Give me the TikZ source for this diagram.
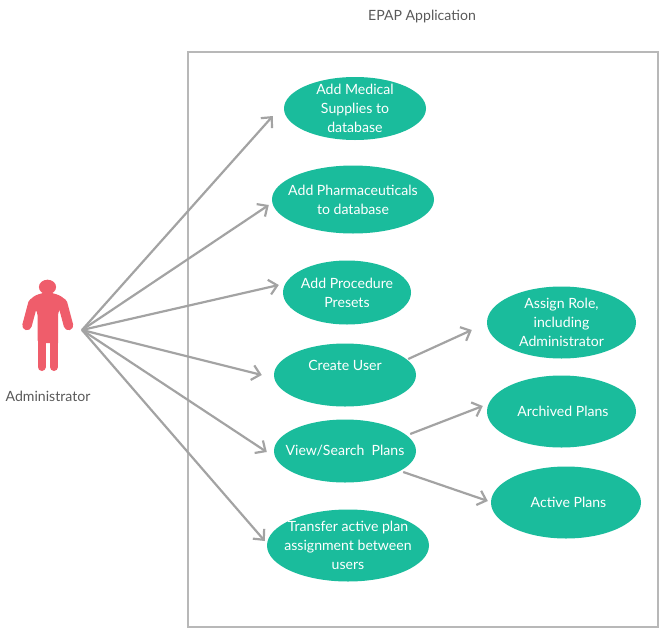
\documentclass[tikz,border=0pt]{standalone}
\usepackage{fontspec}
\setmainfont{Lato}
\usetikzlibrary{shapes.geometric,arrows.meta}
\definecolor{teal}{HTML}{1ABC9C}
\definecolor{conn}{HTML}{A3A3A3}
\definecolor{actor}{HTML}{EF5D6B}
\tikzset{
  usecase/.style={ellipse,fill=teal,text=white,align=center,inner xsep=-25pt,inner ysep=-25pt,
    font=\fontsize{14.1}{19}\selectfont},
  conn/.style={draw=conn,line width=2.2pt,-{Straight Barb[length=8pt,width=15pt,line width=2.2pt]}},
  plain/.style={text=black!65,inner sep=0pt,font=\fontsize{14.1}{19}\selectfont}
}
\begin{document}
\begin{tikzpicture}[x=1pt,y=-1pt]
\useasboundingbox (0,0) rectangle (667,635);
\node[draw=black!28,line width=1.5pt,minimum width=470pt,minimum height=575pt,inner sep=0pt] (sys) at (423,339.5) {};
\node[plain] (title) at (422,17) {EPAP Application};

\node[usecase,minimum width=142pt,minimum height=63pt] (e1) at (355,108.5) {Add Medical\\Supplies to\\database};
\node[usecase,minimum width=162pt,minimum height=68pt] (e2) at (353,199.5) {Add Pharmaceuticals\\to database};
\node[usecase,minimum width=128pt,minimum height=64pt] (e3) at (347,292.5) {Add Procedure\\Presets};
\node[usecase,minimum width=142pt,minimum height=63pt] (e4) at (345,375) {Create User\\\mbox{}};
\node[usecase,minimum width=142pt,minimum height=63pt] (e5) at (345,451) {View/Search\ \ Plans};
\node[usecase,minimum width=162pt,minimum height=72pt] (e6) at (348,545.5) {Transfer active plan\\assignment between\\users};
\node[usecase,minimum width=149pt,minimum height=72pt] (e7) at (561.5,322.5) {Assign Role,\\including\\Administrator};
\node[usecase,minimum width=149pt,minimum height=72pt] (e8) at (561.5,411.5) {\hspace*{3pt}Archived Plans};
\node[usecase,minimum width=150pt,minimum height=72pt] (e9) at (566,502.5) {\hspace*{5pt}Active Plans};

% actor figure
\fill[actor] (47.5,287) ellipse [x radius=8.6pt,y radius=7.3pt];
\fill[actor,rounded corners=3pt] (47.5,292) -- (56,294) -- (62,296.5) -- (67,302) -- (58,312) -- (58,340) -- (58,343) -- (37.5,343) -- (37.5,312) -- (29,302) -- (33,296.5) -- (39,294) -- cycle;
\draw[actor,line width=9.5pt,line cap=round] (33,303) -- (27,325.5);
\draw[actor,line width=9.5pt,line cap=round] (62.5,303) -- (68.5,325.5);
\draw[actor,line width=8pt,line cap=round] (41.7,335) -- (41.7,367);
\draw[actor,line width=8pt,line cap=round] (54,335) -- (54,367);
\coordinate (hub) at (82,330);
\node[plain] (admin) at (48,396) {Administrator};

\draw[conn] (hub) -- ([shift={(-11,7.5)}]e1.west);
\draw[conn] (hub) -- ([shift={(-3,5.5)}]e2.west);
\draw[conn] (hub) -- ([shift={(-4,-7.5)}]e3.west);
\draw[conn] (hub) -- ([shift={(-12,0)}]e4.west);
\draw[conn] (hub) -- ([shift={(-7,1)}]e5.west);
\draw[conn] (hub) -- ([shift={(-2,-4.5)}]e6.west);
\draw[conn] ([shift={(-8,-16)}]e4.east) -- ([shift={(-15,7.5)}]e7.west);
\draw[conn] ([shift={(-6,-17)}]e5.east) -- ([shift={(-4,-5.5)}]e8.west);
\draw[conn] ([shift={(-13,21)}]e5.east) -- ([shift={(-3,-1.5)}]e9.west);
\end{tikzpicture}
\end{document}
